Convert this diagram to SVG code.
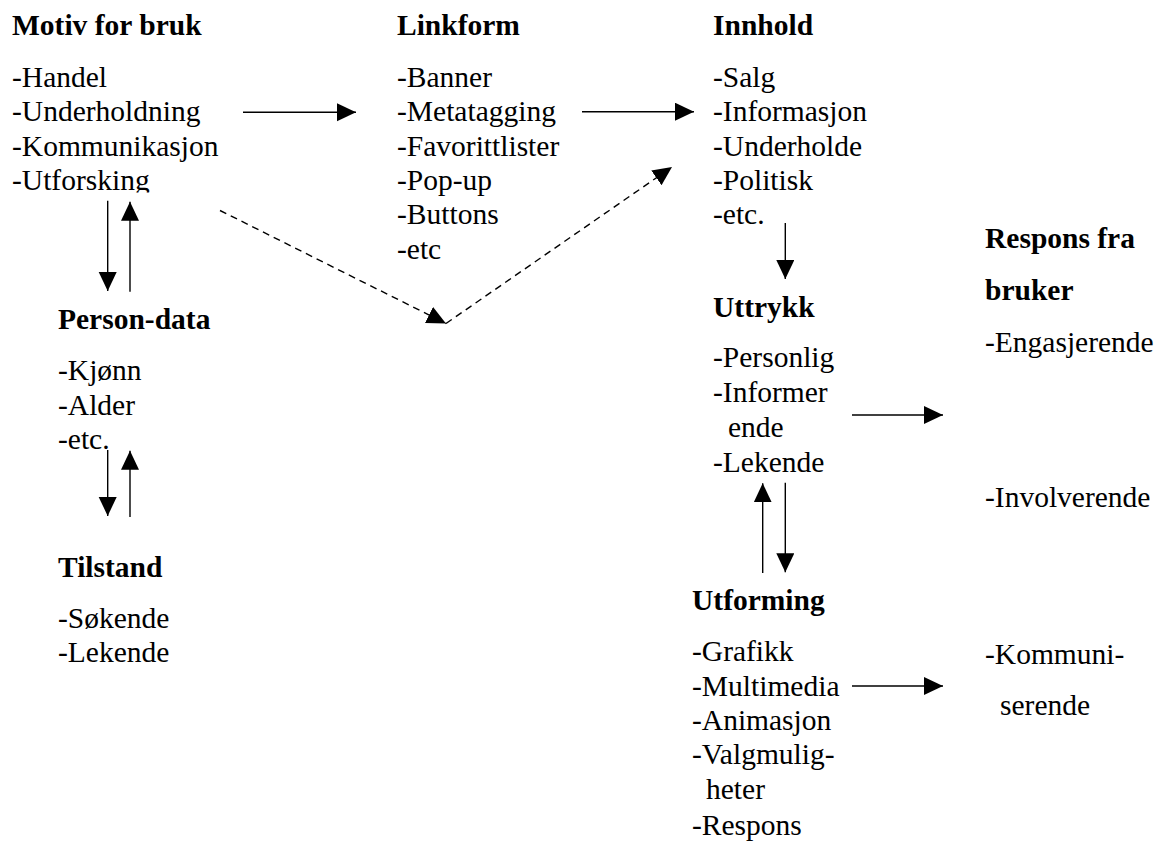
<svg xmlns="http://www.w3.org/2000/svg" width="1163" height="841" viewBox="0 0 1163 841">
<style>
text{font-family:'Liberation Serif','Times New Roman',serif;font-size:29.5px;fill:#000}
.h{font-weight:bold}
.c{stroke:#000;stroke-width:1.4;fill:none}
.d{stroke-dasharray:7,5}
</style>
<defs>
<marker id="ah" markerUnits="userSpaceOnUse" markerWidth="20" markerHeight="19" refX="19" refY="9" orient="auto"><path d="M0,0 L19,9 L0,18 z" fill="#000"/></marker>
<clipPath id="clipU"><rect x="0" y="0" width="400" height="192.5"/></clipPath>
</defs>
<rect width="1163" height="841" fill="#fff"/>
<g id="motiv">
<text class="h" x="12" y="34.5">Motiv for bruk</text>
<text x="12" y="87">-Handel</text>
<text x="12" y="121">-Underholdning</text>
<text x="12" y="155.5">-Kommunikasjon</text>
<text x="12" y="190" clip-path="url(#clipU)">-Utforsking</text>
</g>
<g id="linkform">
<text class="h" x="397" y="34.5">Linkform</text>
<text x="397" y="87">-Banner</text>
<text x="397" y="121">-Metatagging</text>
<text x="397" y="155.5">-Favorittlister</text>
<text x="397" y="190">-Pop-up</text>
<text x="397" y="224.3">-Buttons</text>
<text x="397" y="258.6">-etc</text>
</g>
<g id="innhold">
<text class="h" x="713" y="34.5">Innhold</text>
<text x="713" y="87">-Salg</text>
<text x="713" y="121">-Informasjon</text>
<text x="713" y="155.5">-Underholde</text>
<text x="713" y="190">-Politisk</text>
<text x="713" y="224.3">-etc.</text>
</g>
<g id="persondata">
<text class="h" x="58" y="328.5">Person-data</text>
<text x="58" y="380">-Kjønn</text>
<text x="58" y="415">-Alder</text>
<text x="58" y="449">-etc.</text>
</g>
<g id="tilstand">
<text class="h" x="58" y="577">Tilstand</text>
<text x="58" y="628">-Søkende</text>
<text x="58" y="662">-Lekende</text>
</g>
<g id="uttrykk">
<text class="h" x="713" y="317">Uttrykk</text>
<text x="713" y="366.7">-Personlig</text>
<text x="713" y="402">-Informer</text>
<text x="728" y="436.7">ende</text>
<text x="713" y="471.7">-Lekende</text>
</g>
<g id="respons">
<text class="h" x="985" y="248.3">Respons fra</text>
<text class="h" x="985" y="300">bruker</text>
<text x="985" y="351.7">-Engasjerende</text>
<text x="985" y="506.7">-Involverende</text>
<text x="985" y="664">-Kommuni-</text>
<text x="1000" y="715">serende</text>
</g>
<g id="utforming">
<text class="h" x="692" y="610">Utforming</text>
<text x="692" y="660.7">-Grafikk</text>
<text x="692" y="696">-Multimedia</text>
<text x="692" y="730">-Animasjon</text>
<text x="692" y="764">-Valgmulig-</text>
<text x="706" y="799.3">heter</text>
<text x="692" y="835">-Respons</text>
</g>
<g id="connectors">
<line class="c" x1="243" y1="112.3" x2="356" y2="112.3" marker-end="url(#ah)"/>
<line class="c" x1="582" y1="111.7" x2="694" y2="111.7" marker-end="url(#ah)"/>
<line class="c d" x1="220" y1="210.5" x2="446" y2="323.5" marker-end="url(#ah)"/>
<line class="c d" x1="446" y1="323.5" x2="672" y2="167" marker-end="url(#ah)"/>
<line class="c" x1="107.7" y1="200.7" x2="107.7" y2="291" marker-end="url(#ah)"/>
<line class="c" x1="130" y1="291.7" x2="130" y2="201.7" marker-end="url(#ah)"/>
<line class="c" x1="107.7" y1="450" x2="107.7" y2="516" marker-end="url(#ah)"/>
<line class="c" x1="130" y1="517" x2="130" y2="450.7" marker-end="url(#ah)"/>
<line class="c" x1="785.3" y1="223" x2="785.3" y2="279" marker-end="url(#ah)"/>
<line class="c" x1="852" y1="415" x2="943" y2="415" marker-end="url(#ah)"/>
<line class="c" x1="762.7" y1="573" x2="762.7" y2="483.3" marker-end="url(#ah)"/>
<line class="c" x1="785.3" y1="482.7" x2="785.3" y2="572.3" marker-end="url(#ah)"/>
<line class="c" x1="852" y1="686" x2="943" y2="686" marker-end="url(#ah)"/>
</g>
</svg>
